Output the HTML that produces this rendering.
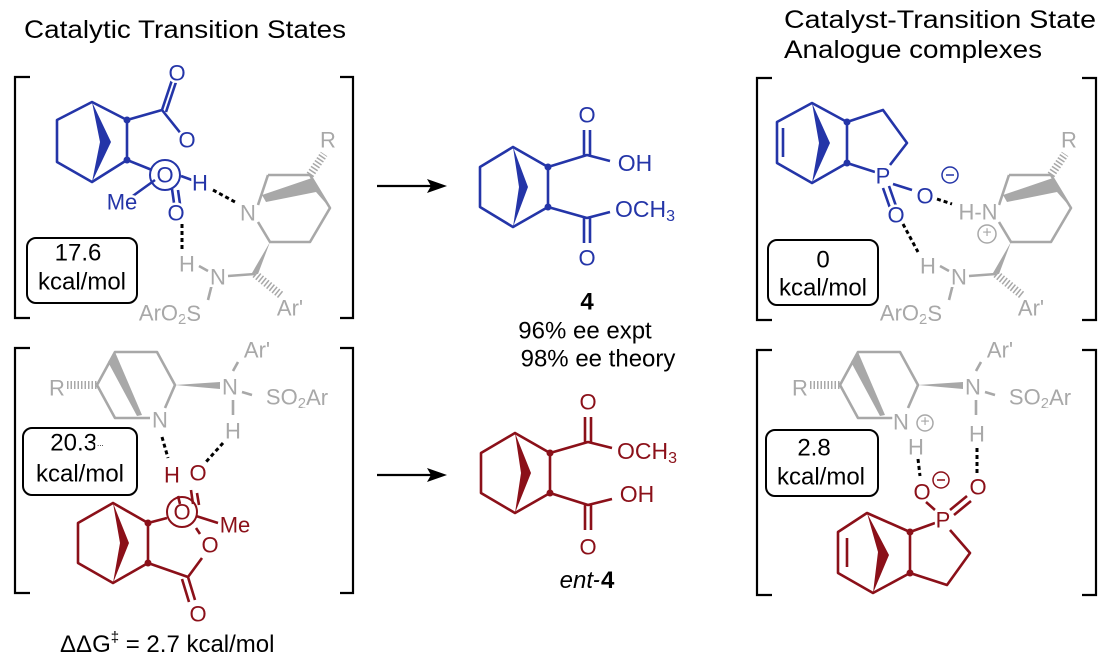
<!DOCTYPE html>
<html><head><meta charset="utf-8"><style>
html,body{margin:0;padding:0;background:#fff;}
svg{display:block;font-family:"Liberation Sans",Arial,sans-serif;}
.b{stroke:#2435a8;fill:none;stroke-width:2.6;stroke-linejoin:round}
.r{stroke:#8b1019;fill:none;stroke-width:2.6;stroke-linejoin:round}
.g{stroke:#a8a8a8;fill:none;stroke-width:2.6;stroke-linejoin:round}
.k{stroke:#000;fill:none;stroke-width:2.2}
.d{stroke:#000;stroke-width:3;stroke-dasharray:4 3;fill:none}
.hb{stroke:#2435a8;stroke-width:8;stroke-dasharray:1.5 2;fill:none}
.hr{stroke:#8b1019;stroke-width:8;stroke-dasharray:1.5 2;fill:none}
.hg{stroke:#a8a8a8;stroke-width:8;stroke-dasharray:1.5 2;fill:none}
text{font-size:22px;text-anchor:middle;dominant-baseline:central;paint-order:stroke;stroke:#fff;stroke-width:5px}
.tb{fill:#2435a8}.tr{fill:#8b1019}.tg{fill:#a8a8a8}.tk{fill:#000}
.plain{stroke:none;text-anchor:start;dominant-baseline:auto;font-size:25px;fill:#000}
</style></head><body>
<svg width="1111" height="667" viewBox="0 0 1111 667">
<!-- titles -->
<text class="plain" x="24" y="38" textLength="322" lengthAdjust="spacingAndGlyphs">Catalytic Transition States</text>
<text class="plain" x="784" y="28" textLength="312" lengthAdjust="spacingAndGlyphs">Catalyst-Transition State</text>
<text class="plain" x="784" y="58" textLength="258" lengthAdjust="spacingAndGlyphs">Analogue complexes</text>

<!-- brackets -->
<g class="k">
<path d="M30,77 H15 V318 H30"/><path d="M340,77 H353 V318 H340"/>
<path d="M30,348 H15 V593 H30"/><path d="M340,348 H353 V593 H340"/>
<path d="M772,78 H757 V320 H772"/><path d="M1082,78 H1096 V320 H1082"/>
<path d="M772,350 H757 V595 H772"/><path d="M1082,350 H1096 V595 H1082"/>
</g>

<!-- ===== top-left TS ===== -->
<g id="gcatT">
<path class="g" d="M268,175 L310,175 L330,208 L310,242 L270,242 L258,222 M258,205 L268,175"/>
<polygon points="262,195 312,178 330,208 316,192 266,202" fill="#a8a8a8"/>
<path class="hg" d="M310,175 L324,154"/>
<polygon points="270,242 252,273 258,274" fill="#a8a8a8"/>
<path class="g" d="M228,276 L255,274 M213,280 L208,300 M199,266 L208,271"/>
<path class="hg" d="M255,274 L282,296"/>
</g>
<text class="tg" x="328" y="140">R</text>
<text class="tg" x="290" y="308">Ar'</text>
<text class="tg" x="218" y="277">N</text>
<text class="tg" x="187" y="264">H</text>
<text class="tg" x="248" y="213">N</text>
<text class="tg" x="170" y="313" style="font-size:22px">ArO<tspan dy="6" font-size="15">2</tspan><tspan dy="-6">S</tspan></text>

<path class="b" d="M92,102 L57,120 L57,162 L92,182 L127,160 L127,120 Z M127,120 L162,110 L182,135 M127,160 L152,170 M162,110 L172,80 M166,112 L176,82 M155,180 L130,198 M178,190 L180,204 M172,189 L174,203 M181,176 L192,180"/>
<polygon points="92,102 111,142 92,182 100,142" fill="#2435a8"/>
<circle cx="127" cy="120" r="3.5" fill="#2435a8"/><circle cx="127" cy="160" r="3.5" fill="#2435a8"/>
<circle class="b" cx="165" cy="175" r="15" style="stroke-width:2"/>
<text class="tb" x="177" y="73">O</text>
<text class="tb" x="187" y="140">O</text>
<text class="tb" x="165" y="175" style="stroke:none">O</text>
<text class="tb" x="122" y="202">Me</text>
<text class="tb" x="200" y="183">H</text>
<text class="tb" x="176" y="213">O</text>
<path class="d" d="M213,190 L235,202 M182,224 L182,250"/>

<rect class="k" x="27" y="238" width="110" height="65" rx="9" style="stroke-width:2"/>
<text class="tk" x="78" y="253" style="font-size:24px">17.6</text>
<text class="tk" x="82" y="282" style="font-size:24px">kcal/mol</text>

<!-- ===== bottom-left TS ===== -->
<g id="gcatB">
<path class="g" d="M97,385 L115,352 L157,352 L175,385 L165,408 M150,418 L115,418 L97,385"/>
<polygon points="115,352 142,415 137,416 108,362" fill="#a8a8a8"/>
<path class="hg" d="M67,385 L97,385"/>
<polygon points="175,385 220,382 220,389" fill="#a8a8a8"/>
<path class="g" d="M233,371 L238,362 M242,392 L252,395 M233,400 L233,415"/>
</g>
<text class="tg" x="57" y="388">R</text>
<text class="tg" x="257" y="350">Ar'</text>
<text class="tg" x="230" y="387">N</text>
<text class="tg" x="297" y="397" style="font-size:22px">SO<tspan dy="6" font-size="15">2</tspan><tspan dy="-6">Ar</tspan></text>
<text class="tg" x="160" y="420">N</text>
<text class="tg" x="233" y="431">H</text>
<path class="d" d="M162,437 L168,458 M223,443 L205,463"/>

<path class="r" d="M113,503 L78,523 L78,563 L113,583 L148,563 L148,523 Z M148,523 L167,518 M148,563 L188,577 L202,558 M188,577 L195,600 M182,579 L189,602 M178,496 L180,504 M191,490 L193,504 M197,493 L199,505 M196,516 L218,523 M196,528 L200,534"/>
<polygon points="113,503 129,543 113,583 120,543" fill="#8b1019"/>
<circle cx="148" cy="523" r="3.5" fill="#8b1019"/><circle cx="148" cy="563" r="3.5" fill="#8b1019"/>
<circle class="r" cx="182" cy="512" r="15" style="stroke-width:2"/>
<text class="tr" x="172" y="475">H</text>
<text class="tr" x="198" y="473">O</text>
<text class="tr" x="182" y="512" style="stroke:none">O</text>
<text class="tr" x="235" y="525">Me</text>
<text class="tr" x="210" y="545">O</text>
<text class="tr" x="198" y="614">O</text>

<rect class="k" x="23" y="428" width="114" height="67" rx="9" style="stroke-width:2"/>
<text class="tk" x="77" y="443" style="font-size:24px">20.3<tspan font-size="8">...</tspan></text>
<text class="tk" x="80" y="474" style="font-size:24px">kcal/mol</text>

<text class="plain" x="60" y="652" style="font-size:24px">ΔΔG<tspan dy="-10" font-size="15">‡</tspan><tspan dy="10"> = 2.7 kcal/mol</tspan></text>

<!-- ===== middle ===== -->
<g class="k"><path d="M377,186 H435 M377,475 H435"/></g>
<polygon points="447,186 427,179 431,186 427,193" fill="#000"/>
<polygon points="447,475 427,468 431,475 427,482" fill="#000"/>

<path class="b" d="M513,147 L480,167 L480,207 L513,227 L548,207 L548,167 Z M548,167 L587,155 L610,161 M584,155 L584,130 M590,155 L590,130 M548,207 L587,218 L610,212 M584,218 L584,243 M590,218 L590,243"/>
<polygon points="513,147 528,187 513,227 519,187" fill="#2435a8"/>
<circle cx="548" cy="167" r="3.5" fill="#2435a8"/><circle cx="548" cy="207" r="3.5" fill="#2435a8"/>
<text class="tb" x="587" y="115">O</text>
<text class="tb" x="587" y="258">O</text>
<text class="tb" x="635" y="163" style="font-size:23px">OH</text>
<text class="tb" x="615" y="209" style="font-size:23px;text-anchor:start">OCH<tspan dy="7" font-size="16">3</tspan></text>

<text class="tk" x="587" y="302" style="font-weight:bold;font-size:24px">4</text>
<text class="tk" x="585" y="331" style="font-size:24px">96% ee expt</text>
<text class="tk" x="598" y="359" style="font-size:24px">98% ee theory</text>

<path class="r" d="M515,433 L481,453 L481,493 L515,513 L550,493 L550,453 Z M550,453 L588,442 L612,448 M585,442 L585,417 M591,442 L591,417 M550,493 L588,505 L612,499 M585,505 L585,530 M591,505 L591,530"/>
<polygon points="515,433 531,473 515,513 521,473" fill="#8b1019"/>
<circle cx="550" cy="453" r="3.5" fill="#8b1019"/><circle cx="550" cy="493" r="3.5" fill="#8b1019"/>
<text class="tr" x="588" y="402">O</text>
<text class="tr" x="588" y="547">O</text>
<text class="tr" x="617" y="451" style="font-size:23px;text-anchor:start">OCH<tspan dy="7" font-size="16">3</tspan></text>
<text class="tr" x="637" y="494" style="font-size:23px">OH</text>
<text class="tk" x="587" y="580" style="font-size:24px"><tspan font-style="italic">ent</tspan>-<tspan font-weight="bold">4</tspan></text>

<!-- ===== top-right ===== -->
<use href="#gcatT" transform="translate(741,0)"/>
<text class="tg" x="1069" y="140">R</text>
<text class="tg" x="1031" y="308">Ar'</text>
<text class="tg" x="959" y="277">N</text>
<text class="tg" x="928" y="266">H</text>
<text class="tg" x="978" y="212">H-N</text>
<text class="tg" x="911" y="313">ArO<tspan dy="6" font-size="15">2</tspan><tspan dy="-6">S</tspan></text>
<circle cx="987" cy="234" r="9" fill="none" stroke="#a8a8a8" stroke-width="1.5"/>
<text class="tg" x="987" y="233" style="font-size:16px;stroke:none">+</text>

<path class="b" d="M812,103 L777,122 L777,163 L812,183 L847,163 L847,122 Z M783,128 L783,157 M847,122 L883,110 L907,143 L890,165 M847,163 L875,172 M893,184 L912,190 M883,188 L890,208 M889,186 L896,206"/>
<polygon points="812,103 830,143 812,183 819,143" fill="#2435a8"/>
<circle cx="847" cy="122" r="3.5" fill="#2435a8"/><circle cx="847" cy="163" r="3.5" fill="#2435a8"/>
<text class="tb" x="883" y="176">P</text>
<text class="tb" x="925" y="196">O</text>
<text class="tb" x="896" y="215">O</text>
<circle cx="950" cy="175" r="8" fill="none" stroke="#2435a8" stroke-width="1.5"/>
<path d="M946,175 H954" stroke="#2435a8" stroke-width="1.5"/>
<path class="d" d="M937,199 L952,204 M903,224 L918,252"/>

<rect class="k" x="768" y="240" width="110" height="65" rx="9" style="stroke-width:2"/>
<text class="tk" x="823" y="260" style="font-size:24px">0</text>
<text class="tk" x="823" y="288" style="font-size:24px">kcal/mol</text>

<!-- ===== bottom-right ===== -->
<use href="#gcatB" transform="translate(743,0)"/>
<text class="tg" x="800" y="388">R</text>
<text class="tg" x="1000" y="350">Ar'</text>
<text class="tg" x="973" y="387">N</text>
<text class="tg" x="1040" y="397">SO<tspan dy="6" font-size="15">2</tspan><tspan dy="-6">Ar</tspan></text>
<text class="tg" x="901" y="422">N</text>
<circle cx="925" cy="423" r="8" fill="none" stroke="#a8a8a8" stroke-width="1.5"/>
<text class="tg" x="925" y="422" style="font-size:16px;stroke:none">+</text>
<text class="tg" x="916" y="447">H</text>
<text class="tg" x="977" y="434">H</text>
<path class="d" d="M918,459 L920,476 M977,448 L977,474"/>

<path class="r" d="M867,513 L838,532 L838,573 L873,593 L910,573 L910,532 Z M847,538 L847,567 M910,532 L935,523 M950,530 L970,553 L947,585 L910,573 M926,502 L935,510 M950,510 L967,496 M954,515 L971,501"/>
<polygon points="867,513 889,555 873,593 878,552" fill="#8b1019"/>
<circle cx="910" cy="532" r="3.5" fill="#8b1019"/><circle cx="910" cy="573" r="3.5" fill="#8b1019"/>
<text class="tr" x="943" y="520">P</text>
<text class="tr" x="922" y="492">O</text>
<text class="tr" x="978" y="487">O</text>
<circle cx="941" cy="480" r="8" fill="none" stroke="#8b1019" stroke-width="1.5"/>
<path d="M937,480 H945" stroke="#8b1019" stroke-width="1.5"/>

<rect class="k" x="766" y="430" width="112" height="66" rx="9" style="stroke-width:2"/>
<text class="tk" x="814" y="448" style="font-size:24px">2.8</text>
<text class="tk" x="821" y="477" style="font-size:24px">kcal/mol</text>
</svg>
</body></html>
